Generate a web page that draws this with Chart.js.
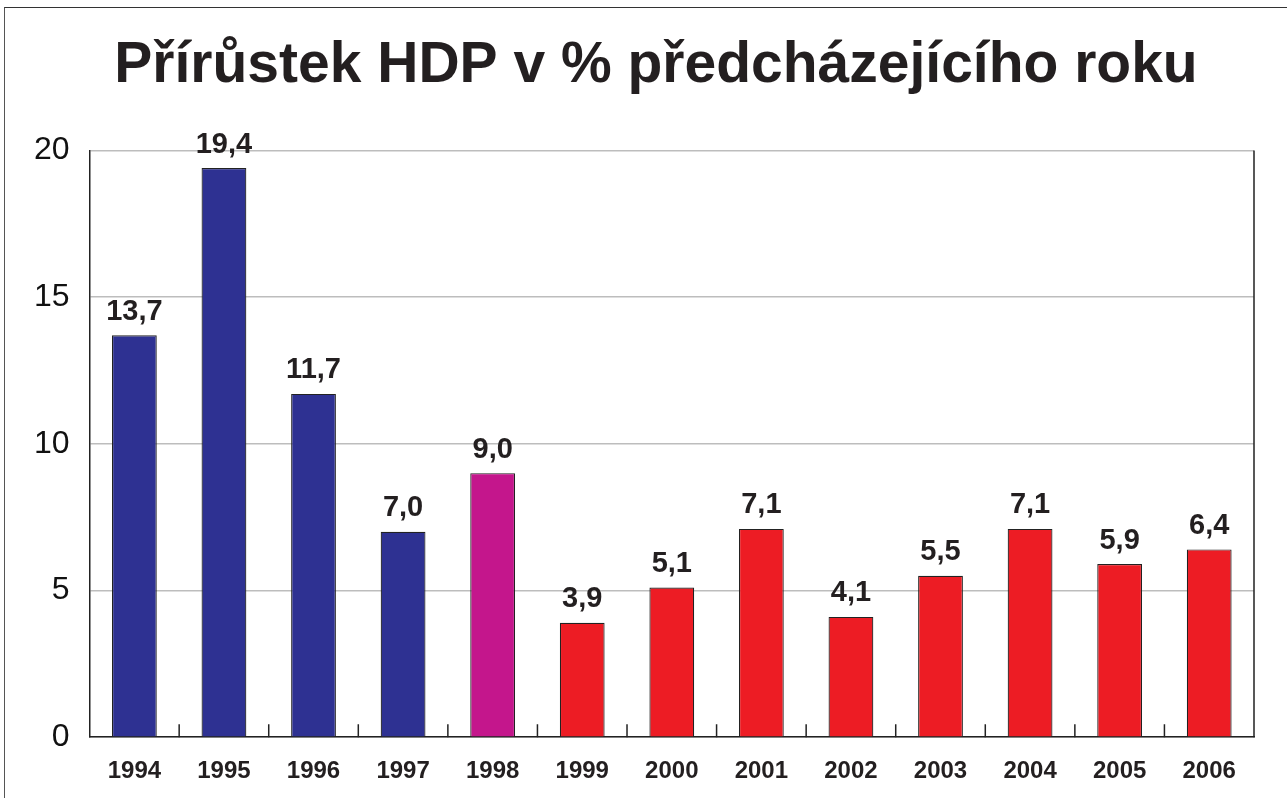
<!DOCTYPE html>
<html>
<head>
<meta charset="utf-8">
<script src="https://cdn.jsdelivr.net/npm/chart.js@4/dist/chart.umd.min.js"></script>
<style>
  html, body { margin: 0; padding: 0; background: #fff; }
  #wrap { position: relative; width: 1287px; height: 798px; }
  #frame { position: absolute; left: 4px; top: 7px; right: 0; bottom: 0;
           border-top: 1.5px solid #333; border-left: 1.5px solid #555; pointer-events: none; }
</style>
</head>
<body>
<div id="wrap">
  <canvas id="chart" width="1287" height="798"></canvas>
  <div id="frame"></div>
</div>
<script>
// data
const YEARS = ['1994','1995','1996','1997','1998','1999','2000','2001','2002','2003','2004','2005','2006'];
const GROWTH = [13.7, 19.4, 11.7, 7.0, 9.0, 3.9, 5.1, 7.1, 4.1, 5.5, 7.1, 5.9, 6.4];
const BAR_COLORS = ['#2E3192','#2E3192','#2E3192','#2E3192','#C4168C',
  '#ED1C24','#ED1C24','#ED1C24','#ED1C24','#ED1C24','#ED1C24','#ED1C24','#ED1C24'];
const Y_TICKS = [0, 5, 10, 15, 20];

const FONT = '"Liberation Sans", Arial, Helvetica, sans-serif';
Chart.defaults.font.family = FONT;

// value labels above the bars, czech decimal comma
const valueLabels = {
  id: 'valueLabels',
  afterDatasetsDraw(chart){
    const c = chart.ctx;
    const meta = chart.getDatasetMeta(0);
    c.save();
    c.font = 'bold 29px ' + FONT;
    c.fillStyle = '#231f20';
    c.textAlign = 'center';
    c.textBaseline = 'bottom';
    meta.data.forEach((bar, i) => {
      c.fillText(GROWTH[i].toFixed(1).replace('.', ','), bar.x, bar.y - 9);
    });
    c.restore();
  }
};

// small inward ticks between categories + right border of plot
const axisExtras = {
  id: 'axisExtras',
  afterLayout(chart){
    // title in the original sits a bit right of the plot centre
    if (chart.titleBlock){ chart.titleBlock.left += 22; chart.titleBlock.right += 22; }
  },
  afterDraw(chart){
    const c = chart.ctx, x = chart.scales.x, a = chart.chartArea;
    c.save();
    c.strokeStyle = '#222';
    c.lineWidth = 1.5;
    c.beginPath();
    for (let i = 1; i < YEARS.length; i++){
      const px = (x.getPixelForTick(i - 1) + x.getPixelForTick(i)) / 2;
      c.moveTo(px, a.bottom);
      c.lineTo(px, a.bottom - 13);
    }
    c.moveTo(a.right, a.top);
    c.lineTo(a.right, a.bottom);
    c.stroke();
    c.restore();
  }
};

new Chart(document.getElementById('chart').getContext('2d'), {
  type: 'bar',
  data: {
    labels: YEARS,
    datasets: [{
      data: GROWTH,
      backgroundColor: BAR_COLORS,
      borderColor: '#222',
      borderWidth: 1.2,
      barPercentage: 0.5,
      categoryPercentage: 1.0
    }]
  },
  options: {
    responsive: false,
    animation: false,
    layout: { padding: { left: 14, right: 33, top: 0, bottom: 0 } },
    plugins: {
      legend: { display: false },
      tooltip: { enabled: false },
      title: {
        display: true,
        text: 'Přírůstek HDP v % předcházejícího roku',
        color: '#231f20',
        font: { size: 57, weight: 'bold', family: FONT },
        padding: { top: 32, bottom: 50 }
      }
    },
    scales: {
      x: {
        grid: { display: false },
        border: { display: true, color: '#222', width: 1.5 },
        ticks: { color: '#231f20', font: { size: 24, weight: 'bold' }, padding: 12, maxRotation: 0 }
      },
      y: {
        min: 0, max: 20,
        afterBuildTicks(scale){ scale.ticks = Y_TICKS.map(v => ({ value: v })); },
        grid: { color: '#bdbdbd', lineWidth: 1.5, drawTicks: false },
        border: { display: true, color: '#222', width: 1.5 },
        ticks: { color: '#111', font: { size: 32 }, padding: 20 }
      }
    }
  },
  plugins: [valueLabels, axisExtras]
});
</script>
</body>
</html>
